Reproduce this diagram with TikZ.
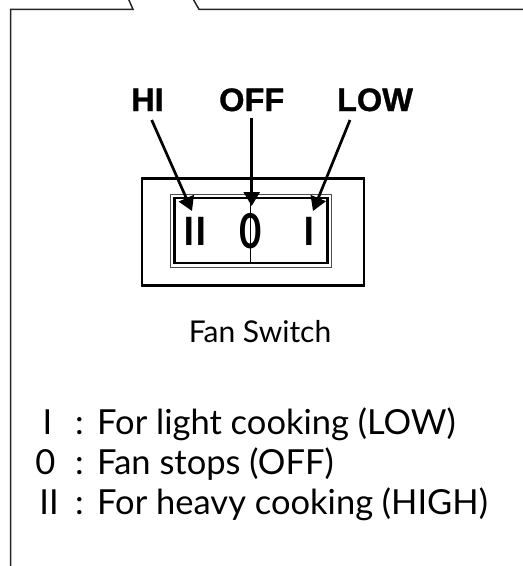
\documentclass[tikz,border=0pt]{standalone}
\usepackage{fontspec}
\setmainfont{Lato}
\newfontfamily\labfont[FakeBold=1]{Liberation Sans}
\usetikzlibrary{arrows.meta}
\tikzset{
  frame/.style={line width=1.5pt, draw=black!85},
  arr/.style={line width=2.7pt, -{Triangle[width=16pt,length=14pt]}},
  lab/.style={font=\labfont\bfseries\fontsize{32.5}{34}\selectfont, inner sep=0pt, anchor=base},
  sym/.style={font=\bfseries\fontsize{39}{40}\selectfont, inner sep=0pt, anchor=base},
  leg/.style={font=\fontsize{34.5}{36}\selectfont, inner sep=0pt, anchor=base west},
  legsym/.style={font=\fontsize{34.5}{36}\selectfont, inner sep=0pt, anchor=base},
}
\begin{document}
\begin{tikzpicture}[x=1pt,y=-1pt]
\useasboundingbox (0,0) rectangle (523,566);
% page frame
\draw[frame] (10.5,570) -- (10.5,9.3) -- (133,9.3) -- (128,-2);
\draw[frame] (192.5,-2) -- (199,9.3) -- (530,9.3);
% switch housing
\draw[line width=2.5pt] (142,178.5) rectangle (364,285.5);
\draw[line width=1pt, draw=black!70] (170.5,194.5) rectangle (331,267);
\draw[line width=2.8pt] (174.5,198) rectangle (327.5,263);
\draw[line width=1pt] (250.5,198) -- (250.5,263);
% symbols
\node[sym] (s2) at (195,245) {II};
\node[sym, font=\fontsize{48}{50}\selectfont, anchor=center] (s0) at (250.5,231.5) {\scalebox{0.8}[1]{\bfseries 0}};
\node[sym] (s1) at (309,245) {I};
% labels
\node[lab] (hi) at (147.5,111) {HI};
\node[lab] (off) at (251.7,111) {OFF};
\node[lab] (low) at (375,111) {LOW};
\coordinate (hiS) at (151.7,120);
\coordinate (hiT) at (192,211);
\coordinate (offS) at (251.7,118);
\coordinate (offT) at (251.7,206);
\coordinate (lowS) at (350,120);
\coordinate (lowT) at (313,211);
\draw[arr] (hiS) -- (hiT);
\draw[arr] (offS) -- (offT);
\draw[arr] (lowS) -- (lowT);
% caption
\node[font=\fontsize{30}{32}\selectfont, inner sep=0pt, anchor=base] (cap) at (260,342) {Fan Switch};
% legend
\node[legsym] (k1) at (47.5,434) {I};
\node[legsym] (k0) at (45.5,474) {0};
\node[legsym] (k2) at (49,514) {II};
\node[legsym] (c1) at (79.5,434) {:};
\node[legsym] (c0) at (79.5,474) {:};
\node[legsym] (c2) at (79.5,514) {:};
\node[leg] (t1) at (97,434) {For light cooking (LOW)};
\node[leg] (t0) at (97,474) {Fan stops (OFF)};
\node[leg] (t2) at (97,514) {For heavy cooking (HIGH)};
\end{tikzpicture}
\end{document}
